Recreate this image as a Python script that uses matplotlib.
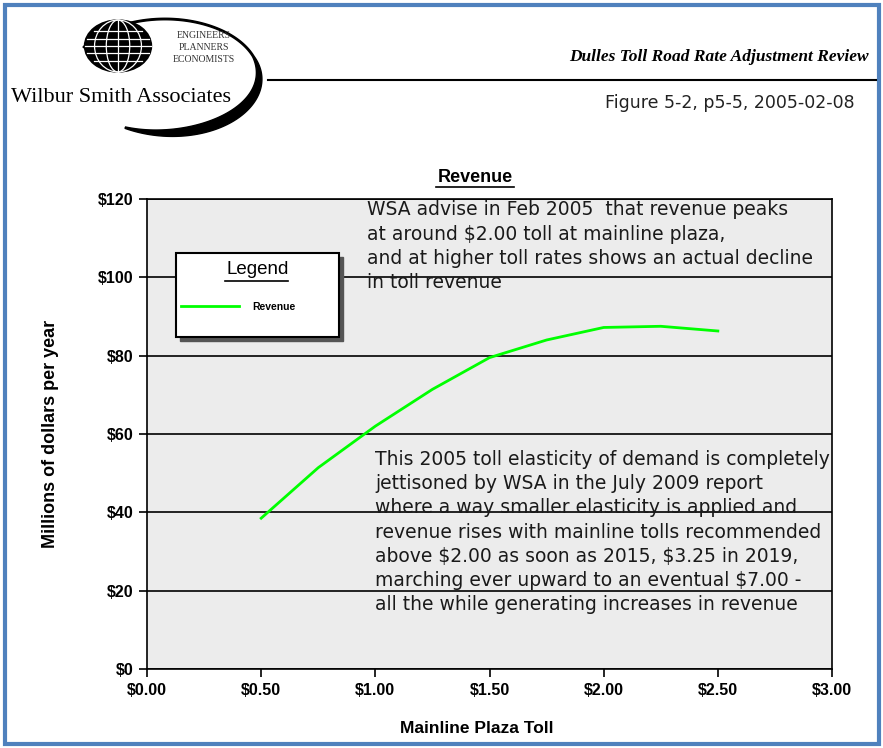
import numpy as np
import matplotlib
matplotlib.use("Agg")
import matplotlib.pyplot as plt
from matplotlib.patches import Rectangle, Ellipse, Polygon
from matplotlib.lines import Line2D

# data (Feb 2005)
toll = [0.50, 0.75, 1.00, 1.25, 1.50, 1.75, 2.00, 2.25, 2.50]
revenue = [38.5, 51.4, 62.0, 71.4, 79.5, 84.0, 87.2, 87.5, 86.3]

x_ticks = [0.0, 0.5, 1.0, 1.5, 2.0, 2.5, 3.0]
x_labels = ["$0.00", "$0.50", "$1.00", "$1.50", "$2.00", "$2.50", "$3.00"]
y_ticks = [0, 20, 40, 60, 80, 100, 120]
y_labels = ["$0", "$20", "$40", "$60", "$80", "$100", "$120"]

note_top = ("WSA advise in Feb 2005  that revenue peaks\n"
            "at around $2.00 toll at mainline plaza,\n"
            "and at higher toll rates shows an actual decline\n"
            "in toll revenue")
note_bottom = ("This 2005 toll elasticity of demand is completely\n"
               "jettisoned by WSA in the July 2009 report\n"
               "where a way smaller elasticity is applied and\n"
               "revenue rises with mainline tolls recommended\n"
               "above $2.00 as soon as 2015, $3.25 in 2019,\n"
               "marching ever upward to an eventual $7.00 -\n"
               "all the while generating increases in revenue")

W, H = 883, 748
sans = "Liberation Sans"


def fx(x):
    return x / W


def fy(y):
    return 1 - y / H


fig = plt.figure(figsize=(W / 100, H / 100), dpi=100)
fig.patch.set_facecolor("white")

# blue page frame
fig.patches.append(Rectangle((fx(5), fy(744)), fx(874), (744 - 5) / H,
                             transform=fig.transFigure, fill=False,
                             edgecolor="#4f81bd", linewidth=3))

# logo swoosh (crescent around the globe)
cx, cy, a, b = 165, 76, 94, 57
t = np.radians(np.linspace(150, -115, 200))
wid = np.where(np.degrees(t) > 20, 1.5,
               1.5 + 9 * np.sin(np.clip((20 - np.degrees(t)) / 135 * np.pi, 0, np.pi)))
outer = [(fx(cx + (a + w / 2) * np.cos(s)), fy(cy - (b + w / 2) * np.sin(s)))
         for s, w in zip(t, wid)]
inner = [(fx(cx + (a - w / 2) * np.cos(s)), fy(cy - (b - w / 2) * np.sin(s)))
         for s, w in zip(t[::-1], wid[::-1])]
fig.patches.append(Polygon(outer + inner, closed=True, color="black",
                           transform=fig.transFigure))

# globe
gx, gy, gw, gh = 118, 46, 67, 52
fig.patches.append(Ellipse((fx(gx), fy(gy)), fx(gw), gh / H,
                           transform=fig.transFigure, color="black"))
for f in [0.35, 0.7]:
    fig.patches.append(Ellipse((fx(gx), fy(gy)), fx(gw * f), gh / H,
                               transform=fig.transFigure, fill=False,
                               edgecolor="white", lw=0.9))
fig.lines.append(Line2D([fx(gx), fx(gx)], [fy(gy - gh / 2), fy(gy + gh / 2)],
                        transform=fig.transFigure, color="white", lw=0.9))
for dy, half in [(-15, 24), (-7, 31), (0, 33), (7, 31), (15, 24)]:
    fig.lines.append(Line2D([fx(gx - half), fx(gx + half)],
                            [fy(gy + dy), fy(gy + dy)],
                            transform=fig.transFigure, color="white", lw=0.9))

for i, txt in enumerate(["ENGINEERS", "PLANNERS", "ECONOMISTS"]):
    fig.text(fx(204), fy(36 + 12 * i), txt, ha="center", va="center",
             fontsize=7, family="Liberation Serif", color="#333333")
fig.text(fx(11), fy(98), "Wilbur Smith Associates", ha="left", va="center",
         fontsize=16, family="Liberation Serif")

# header
fig.lines.append(Line2D([fx(268), fx(876)], [fy(80), fy(80)],
                        transform=fig.transFigure, color="black", lw=1.5))
fig.text(fx(869), fy(57), "Dulles Toll Road Rate Adjustment Review",
         ha="right", va="center", fontsize=12.5, family="Liberation Serif",
         style="italic", weight="bold")
fig.text(fx(855), fy(103), "Figure 5-2, p5-5, 2005-02-08", ha="right",
         va="center", fontsize=12.5, family="DejaVu Sans", color="#222222")

# chart
ax = fig.add_axes([fx(147), fy(669), fx(832 - 147), (669 - 199) / H])
ax.set_facecolor("#ececec")
ax.plot(toll, revenue, color="#00ff00", lw=2, label="Revenue", zorder=3)
ax.set_xlim(0, 3)
ax.set_ylim(0, 120)
ax.set_yticks(y_ticks)
ax.set_yticklabels(y_labels)
ax.set_xticks(x_ticks)
ax.set_xticklabels(x_labels)
ax.grid(axis="y", color="black", lw=1.2)
ax.set_axisbelow(True)
for s in ax.spines.values():
    s.set_color("black")
    s.set_linewidth(1.2)
ax.tick_params(direction="out", length=6, width=1.2, colors="black", pad=4)
for lab in ax.get_xticklabels() + ax.get_yticklabels():
    lab.set_fontweight("bold")
    lab.set_family(sans)
    lab.set_fontsize(11.5)
ax.set_xlabel("Mainline Plaza Toll", fontweight="bold", family=sans,
              fontsize=12.5)
ax.xaxis.set_label_coords((477 - 147) / 685, -0.111)
ax.set_ylabel("Millions of dollars per year", fontweight="bold",
              family=sans, fontsize=13, labelpad=28)

fig.text(fx(475), fy(178), "Revenue", ha="center", va="center",
         fontsize=13, weight="bold", family=sans)
fig.lines.append(Line2D([fx(436), fx(514)], [fy(187), fy(187)],
                        transform=fig.transFigure, color="black", lw=1.2))

# legend box with drop shadow
fig.patches.append(Rectangle((fx(180), fy(341)), fx(163), 84 / H,
                             transform=fig.transFigure, color="#555555",
                             zorder=5))
fig.patches.append(Rectangle((fx(176), fy(337)), fx(163), 84 / H,
                             transform=fig.transFigure, facecolor="white",
                             edgecolor="black", lw=1.5, zorder=6))
leg = ax.legend(loc="upper left",
                bbox_to_anchor=((176 - 147) / 685, 1 - (256 - 199) / 470,
                                (339 - 176) / 685, 0.0),
                mode="expand", borderaxespad=0, title="Legend",
                frameon=False, handlelength=5.6, borderpad=0.48,
                labelspacing=2.3, handletextpad=1.25,
                prop={"weight": "bold", "size": 7.5, "family": sans},
                title_fontproperties={"size": 13.5, "family": sans})
leg.set_zorder(7)
leg.set_figure(fig)
ax.legend_ = None
fig.legends.append(leg)
fig.lines.append(Line2D([fx(225), fx(288)], [fy(281), fy(281)],
                        transform=fig.transFigure, color="black", lw=1.2,
                        zorder=10))

ax.text((367 - 147) / 685, 0.997, note_top, transform=ax.transAxes,
        ha="left", va="top", fontsize=13.5, linespacing=1.347,
        family="DejaVu Sans", color="#1a1a1a", zorder=4, parse_math=False)
ax.text((375 - 147) / 685, 1 - (450 - 199) / 470, note_bottom,
        transform=ax.transAxes, ha="left", va="top", fontsize=13.5,
        linespacing=1.347, family="DejaVu Sans", color="#1a1a1a", zorder=4,
        parse_math=False)

fig.savefig("out.png", dpi=100)
